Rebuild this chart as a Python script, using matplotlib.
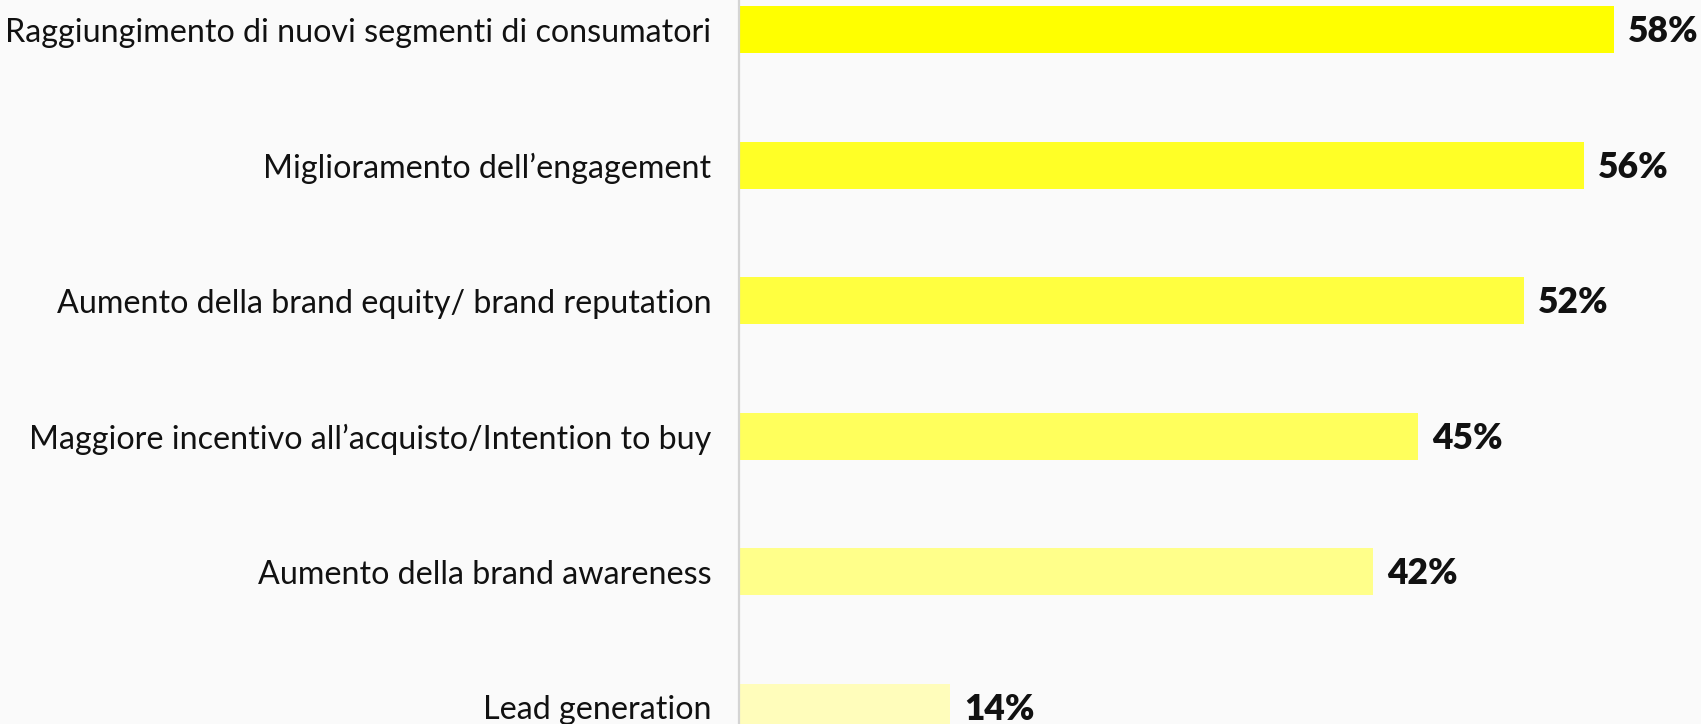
import matplotlib
matplotlib.use("Agg")
import matplotlib.pyplot as plt

# Survey results: objectives reached, share of respondents (%)
categories = [
    "Raggiungimento di nuovi segmenti di consumatori",
    "Miglioramento dell\u2019engagement",
    "Aumento della brand equity/ brand reputation",
    "Maggiore incentivo all\u2019acquisto/Intention to buy",
    "Aumento della brand awareness",
    "Lead generation",
]
values = [58, 56, 52, 45, 42, 14]
bar_colors = ["#FFFF00", "#FFFF26", "#FFFF40", "#FFFF5C", "#FFFF8A", "#FFFDBB"]

BG = "#FAFAFA"

fig = plt.figure(figsize=(17.01, 7.24), dpi=100, facecolor=BG)
ax = fig.add_axes([0.4345, 0.0, 0.5655, 1.0], facecolor=BG)

positions = list(range(len(categories)))
ax.barh(positions, values, height=0.347, color=bar_colors, edgecolor="none")

ax.set_xlim(0, 63.75)
ax.set_ylim(5.125, -0.218)

for spine in ("top", "right", "bottom"):
    ax.spines[spine].set_visible(False)
ax.spines["left"].set_color("#D4D4D4")
ax.spines["left"].set_linewidth(1.6)

ax.set_xticks([])
ax.set_yticks(positions)
ax.set_yticklabels(categories, fontsize=23.2, family="Lato", color="#111111")
ax.tick_params(axis="y", length=0, pad=20)

for p, v in zip(positions, values):
    ax.annotate(f"{v}%", xy=(v, p), xytext=(10, -1.5), textcoords="offset points",
                ha="left", va="center", fontsize=25.5, fontweight="heavy",
                family="Lato", color="#111111")

fig.savefig("out.png", dpi=100, facecolor=BG)
